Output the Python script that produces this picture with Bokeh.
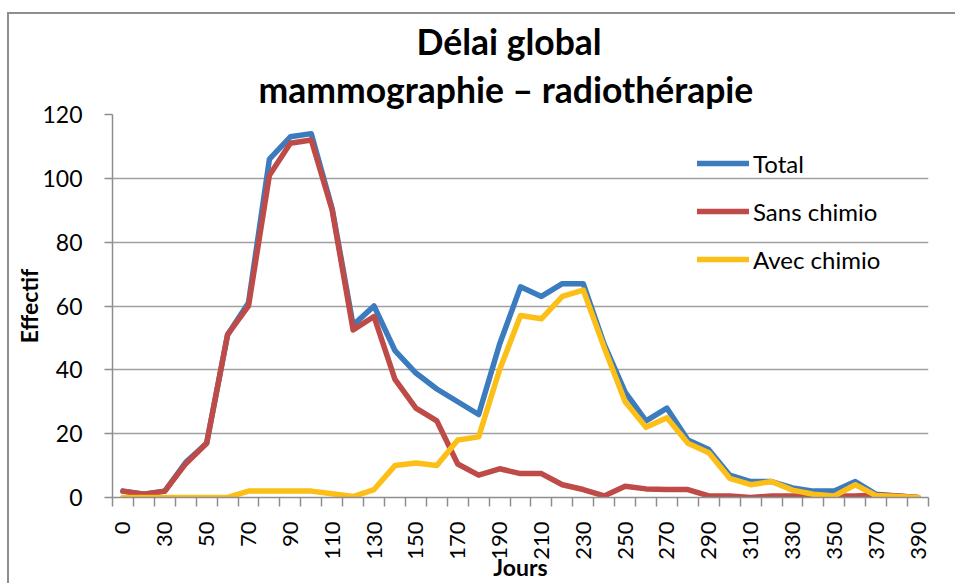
import math
from bokeh.plotting import figure
from bokeh.models import Range1d, FixedTicker, Legend, LegendItem, Title
from bokeh.embed import file_html
from bokeh.resources import INLINE

# ---- data ----
categories = ["0", "20", "30", "40", "50", "60", "70", "80", "90", "100",
              "110", "120", "130", "140", "150", "160", "170", "180", "190", "200",
              "210", "220", "230", "240", "250", "260", "270", "280", "290", "300",
              "310", "320", "330", "340", "350", "360", "370", "380", "390"]

total = [2, 1, 2, 11, 17, 51, 61, 106, 113, 114,
         90.5, 54, 60, 46, 39, 34, 30, 26, 48, 66,
         63, 67, 67, 48, 33, 24, 28, 18, 15, 7,
         5, 5, 3, 2, 2, 5, 1, 0.5, 0]

sans_chimio = [2, 1, 2, 10.6, 17, 51, 60, 101, 111, 112,
               90, 52.5, 56.7, 37, 28, 24, 10.5, 7, 9, 7.5,
               7.5, 4, 2.5, 0.5, 3.5, 2.7, 2.5, 2.5, 0.5, 0.5,
               0, 0.5, 0.5, 0.5, 0.5, 0.5, 0.8, 0.5, 0]

avec_chimio = [0, 0, 0, 0, 0, 0, 2, 2, 2, 2,
               1.2, 0.3, 2.5, 10, 10.8, 10, 18, 19, 40, 57,
               56, 63, 65, 47, 30, 22, 25, 17, 14, 6,
               4, 5, 2.3, 1, 0.5, 4, 0.6, 0.3, 0]

y_ticks = [0, 20, 40, 60, 80, 100, 120]
series_names = ["Total", "Sans chimio", "Avec chimio"]
title_lines = ["Délai global", "mammographie – radiothérapie"]
x_title = "Jours"
y_title = "Effectif"

# ---- style ----
FONT = "Lato"
GRAY = "#8e8e8e"
colors = ["#3B7BBE", "#BE4B48", "#FCBF17"]

x_idx = list(range(len(categories)))

p = figure(width=955, height=583,
           x_range=Range1d(-0.5, len(categories) - 0.5),
           y_range=Range1d(y_ticks[0], y_ticks[-1]),
           output_backend="svg", toolbar_location=None,
           min_border_left=112, min_border_right=27,
           min_border_top=114, min_border_bottom=85)
p.outline_line_color = None
p.background_fill_color = "white"
p.border_fill_color = None
p.styles = {
    "background-image": "linear-gradient(#8e8e8e, #8e8e8e), linear-gradient(#8e8e8e, #8e8e8e)",
    "background-size": "100% 2px, 2px 100%",
    "background-position": "8px 12px, 7px 12px",
    "background-repeat": "no-repeat",
    "background-color": "white",
}
p.xgrid.visible = False
p.ygrid.grid_line_color = "#a0a0a0"
p.ygrid.grid_line_width = 1.6

renderers = []
for vals, c in zip([total, sans_chimio, avec_chimio], colors):
    r = p.line(x_idx, vals, line_color=c, line_width=5.5,
               line_join="round", line_cap="round")
    renderers.append(r)

legend = Legend(items=[LegendItem(label=n, renderers=[r]) for n, r in zip(series_names, renderers)],
                location=(585, 223), orientation="vertical",
                glyph_width=52, glyph_height=30, label_height=30,
                spacing=18, padding=0, margin=0, label_standoff=4,
                background_fill_alpha=0, border_line_color=None,
                label_text_font=FONT, label_text_font_size="24px",
                label_text_color="black")
p.add_layout(legend)

# x axis
xa = p.xaxis[0]
xa.ticker = FixedTicker(ticks=[i for i in x_idx if i % 2 == 0],
                        minor_ticks=[i - 0.5 for i in range(len(categories) + 1)])
xa.major_label_overrides = {i: categories[i] for i in x_idx if i % 2 == 0}
xa.major_label_orientation = math.pi / 2
xa.major_tick_line_color = None
xa.major_tick_out = 0
xa.major_tick_in = 0
xa.minor_tick_out = 9
xa.minor_tick_in = 0
xa.minor_tick_line_color = GRAY
xa.minor_tick_line_width = 1.5
xa.axis_line_color = GRAY
xa.axis_line_width = 1.5
xa.major_label_standoff = 15
xa.major_label_text_font = FONT
xa.major_label_text_font_size = "22px"
xa.major_label_text_color = "black"
xa.axis_label = x_title
xa.axis_label_text_font = FONT
xa.axis_label_text_font_style = "bold"
xa.axis_label_text_font_size = "23px"
xa.axis_label_text_color = "black"
xa.axis_label_standoff = -10

# y axis
ya = p.yaxis[0]
ya.ticker = FixedTicker(ticks=y_ticks)
ya.minor_tick_line_color = None
ya.major_tick_out = 8
ya.major_tick_in = 0
ya.major_tick_line_color = GRAY
ya.major_tick_line_width = 1.5
ya.axis_line_color = GRAY
ya.axis_line_width = 1.5
ya.major_label_standoff = 22
ya.major_label_text_font = FONT
ya.major_label_text_font_size = "23px"
ya.major_label_text_color = "black"
ya.axis_label = y_title
ya.axis_label_text_font = FONT
ya.axis_label_text_font_style = "bold"
ya.axis_label_text_font_size = "23px"
ya.axis_label_text_color = "black"
ya.axis_label_standoff = -4

# titles (inner first, outer second)
p.add_layout(Title(text=title_lines[1], align="left", offset=146, text_font=FONT,
                   text_font_style="bold", text_font_size="35.5px",
                   text_color="black", standoff=7), "above")
p.add_layout(Title(text=title_lines[0], align="left", offset=304, text_font=FONT,
                   text_font_style="bold", text_font_size="35.5px",
                   text_color="black", standoff=0), "above")

open("out.html", "w").write(file_html(p, INLINE))
